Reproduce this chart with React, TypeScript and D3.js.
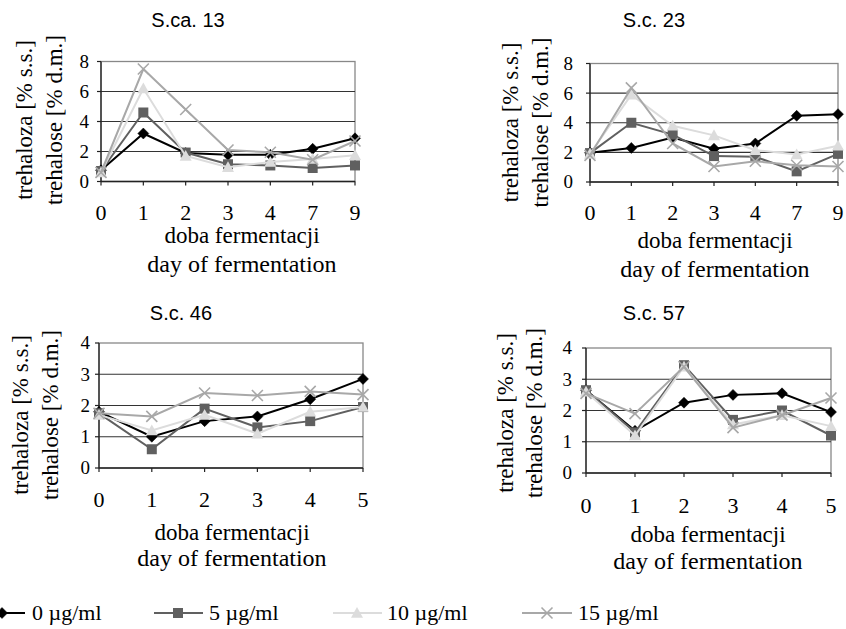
import React from 'react';
import * as d3 from 'd3';

// ---------- data ----------
const days9 = ['0', '1', '2', '3', '4', '7', '9'];
const days5 = ['0', '1', '2', '3', '4', '5'];
const seriesNames = ['0 µg/ml', '5 µg/ml', '10 µg/ml', '15 µg/ml'];

const sca13_c0 = [0.75, 3.2, 1.9, 1.78, 1.78, 2.18, 2.88];
const sca13_c5 = [0.7, 4.6, 1.93, 1.15, 1.07, 0.9, 1.07];
const sca13_c10 = [0.6, 6.2, 1.7, 0.95, 1.3, 1.5, 1.75];
const sca13_c15 = [0.6, 7.5, 4.8, 2.1, 1.95, 1.45, 2.7];

const sc23_c0 = [1.97, 2.3, 3.0, 2.25, 2.6, 4.47, 4.58];
const sc23_c5 = [1.95, 4.0, 3.2, 1.75, 1.7, 0.72, 1.9];
const sc23_c10 = [1.9, 5.9, 3.8, 3.15, 2.15, 1.86, 2.45];
const sc23_c15 = [1.8, 6.35, 2.6, 1.05, 1.4, 1.13, 1.05];

const sc46_c0 = [1.8, 1.0, 1.5, 1.65, 2.2, 2.85];
const sc46_c5 = [1.75, 0.6, 1.9, 1.3, 1.5, 1.95];
const sc46_c10 = [1.7, 1.2, 1.7, 1.1, 1.8, 1.95];
const sc46_c15 = [1.75, 1.65, 2.4, 2.32, 2.45, 2.35];

const sc57_c0 = [2.65, 1.35, 2.25, 2.5, 2.55, 1.95];
const sc57_c5 = [2.65, 1.3, 3.45, 1.7, 2.0, 1.2];
const sc57_c10 = [2.6, 1.2, 3.4, 1.55, 1.85, 1.5];
const sc57_c15 = [2.55, 1.9, 3.4, 1.45, 1.85, 2.4];

const ticks8 = [0, 2, 4, 6, 8];
const ticks4 = [0, 1, 2, 3, 4];

const titles = ['S.ca. 13', 'S.c. 23', 'S.c. 46', 'S.c. 57'];
const yTitle1 = 'trehaloza [% s.s.]';
const yTitle2 = 'trehalose [% d.m.]';
const xTitle1 = 'doba fermentacji';
const xTitle2 = 'day of fermentation';

// ---------- styles ----------
const colors = ['#000000', '#606060', '#dcdcdc', '#a8a8a8'];
const markers = ['diamond', 'square', 'triangle', 'x'];
const serif = '"Liberation Serif", "Times New Roman", serif';
const sans = '"Liberation Sans", Arial, sans-serif';

// panel layout (positions only)
const panels = [
  {
    title: titles[0], cats: days9, data: [sca13_c0, sca13_c5, sca13_c10, sca13_c15], ticks: ticks8,
    left: 101, right: 355, bottom: 181.5, top: 61.5,
    titleX: 188, titleY: 27, yl1: 32, yl2: 62, ylc: 120, ytEnd: 89, xtY: 220, xtX: 242, xt1: 243, xt2: 272,
  },
  {
    title: titles[1], cats: days9, data: [sc23_c0, sc23_c5, sc23_c10, sc23_c15], ticks: ticks8,
    left: 590, right: 838, bottom: 182, top: 63.5,
    titleX: 654, titleY: 27, yl1: 518, yl2: 548, ylc: 122.5, ytEnd: 573, xtY: 220, xtX: 715, xt1: 248, xt2: 277,
  },
  {
    title: titles[2], cats: days5, data: [sc46_c0, sc46_c5, sc46_c10, sc46_c15], ticks: ticks4,
    left: 99, right: 363, bottom: 468, top: 343,
    titleX: 181, titleY: 320, yl1: 28, yl2: 58, ylc: 415, ytEnd: 90, xtY: 507, xtX: 232, xt1: 540, xt2: 566,
  },
  {
    title: titles[3], cats: days5, data: [sc57_c0, sc57_c5, sc57_c10, sc57_c15], ticks: ticks4,
    left: 586, right: 831, bottom: 473, top: 348,
    titleX: 654, titleY: 320, yl1: 513, yl2: 542, ylc: 413, ytEnd: 572, xtY: 513, xtX: 708, xt1: 542, xt2: 569,
  },
];

function Marker({ type, x, y, color }: { type: string; x: number; y: number; color: string }) {
  if (type === 'diamond') {
    const r = 5.5;
    return <path d={`M${x},${y - r}L${x + r},${y}L${x},${y + r}L${x - r},${y}Z`} fill={color} stroke={color} strokeWidth={0.5} />;
  }
  if (type === 'square') {
    const r = 5;
    return <rect x={x - r} y={y - r} width={2 * r} height={2 * r} fill={color} />;
  }
  if (type === 'triangle') {
    const r = 6;
    return <path d={`M${x},${y - r}L${x + r},${y + r * 0.8}L${x - r},${y + r * 0.8}Z`} fill={color} />;
  }
  const r = 5.5;
  return <path d={`M${x - r},${y - r}L${x + r},${y + r}M${x - r},${y + r}L${x + r},${y - r}`} stroke={color} strokeWidth={1.6} fill="none" />;
}

function Panel({ p }: { p: (typeof panels)[number] }) {
  const x = d3.scalePoint<string>().domain(p.cats).range([p.left, p.right]);
  const maxV = p.ticks[p.ticks.length - 1];
  const y = d3.scaleLinear().domain([0, maxV]).range([p.bottom, p.top]);
  const line = d3.line<number>().x((_, i) => x(p.cats[i]) as number).y((d) => y(d));
  return (
    <g>
      <text x={p.titleX} y={p.titleY} textAnchor="middle" fontFamily={sans} fontSize={20}>{p.title}</text>
      <rect x={p.left} y={y(maxV)} width={p.right - p.left} height={y(0) - y(maxV)} fill="none" stroke="#888" strokeWidth={1.3} />
      {p.ticks.filter((t) => t > 0 && t < maxV).map((t) => (
        <line key={t} x1={p.left} x2={p.right} y1={y(t)} y2={y(t)} stroke="#333" strokeWidth={1.2} />
      ))}
      <line x1={p.left} x2={p.left} y1={y(0)} y2={y(maxV)} stroke="#222" strokeWidth={1.3} />
      <line x1={p.left} x2={p.right} y1={y(0)} y2={y(0)} stroke="#222" strokeWidth={1.3} />
      {p.ticks.map((t) => (
        <g key={t}>
          <line x1={p.left - 4} x2={p.left} y1={y(t)} y2={y(t)} stroke="#222" strokeWidth={1.2} />
          <text x={p.ytEnd} y={y(t)} dy="0.34em" textAnchor="end" fontFamily={serif} fontSize={19}>{t}</text>
        </g>
      ))}
      {p.cats.map((c) => (
        <g key={c}>
          <line x1={x(c)} x2={x(c)} y1={y(0)} y2={y(0) + 4} stroke="#222" strokeWidth={1.2} />
          <text x={x(c)} y={p.xtY} textAnchor="middle" fontFamily={serif} fontSize={22}>{c}</text>
        </g>
      ))}
      {p.data.map((vals, si) => (
        <g key={si}>
          <path d={line(vals) || ''} fill="none" stroke={colors[si]} strokeWidth={2} />
          {vals.map((v, i) => (
            <Marker key={i} type={markers[si]} x={x(p.cats[i]) as number} y={y(v)} color={colors[si]} />
          ))}
        </g>
      ))}
      <text transform={`translate(${p.yl1},${p.ylc}) rotate(-90)`} textAnchor="middle" fontFamily={serif} fontSize={23}>{yTitle1}</text>
      <text transform={`translate(${p.yl2},${p.ylc}) rotate(-90)`} textAnchor="middle" fontFamily={serif} fontSize={23}>{yTitle2}</text>
      <text x={p.xtX} y={p.xt1} textAnchor="middle" fontFamily={serif} fontSize={23}>{xTitle1}</text>
      <text x={p.xtX} y={p.xt2} textAnchor="middle" fontFamily={serif} fontSize={24}>{xTitle2}</text>
    </g>
  );
}

// legend layout
const legendLines = [[0, 25], [154, 203], [333, 382], [522, 572]];
const legendMarkX = [2, 178, 357, 547];
const legendTextX = [32, 209, 387, 578];
const legendY = 613;

export default function App() {
  return (
    <svg width={846} height={629} style={{ position: 'absolute', left: 0, top: 0, background: '#fff' }}>
      <rect width={846} height={629} fill="#fff" />
      {panels.map((p, i) => <Panel key={i} p={p} />)}
      {seriesNames.map((name, i) => (
        <g key={name}>
          <line x1={legendLines[i][0]} x2={legendLines[i][1]} y1={legendY} y2={legendY} stroke={colors[i]} strokeWidth={2} />
          <Marker type={markers[i]} x={legendMarkX[i]} y={legendY} color={colors[i]} />
          <text x={legendTextX[i]} y={legendY + 7} fontFamily={serif} fontSize={22}>{name}</text>
        </g>
      ))}
    </svg>
  );
}
